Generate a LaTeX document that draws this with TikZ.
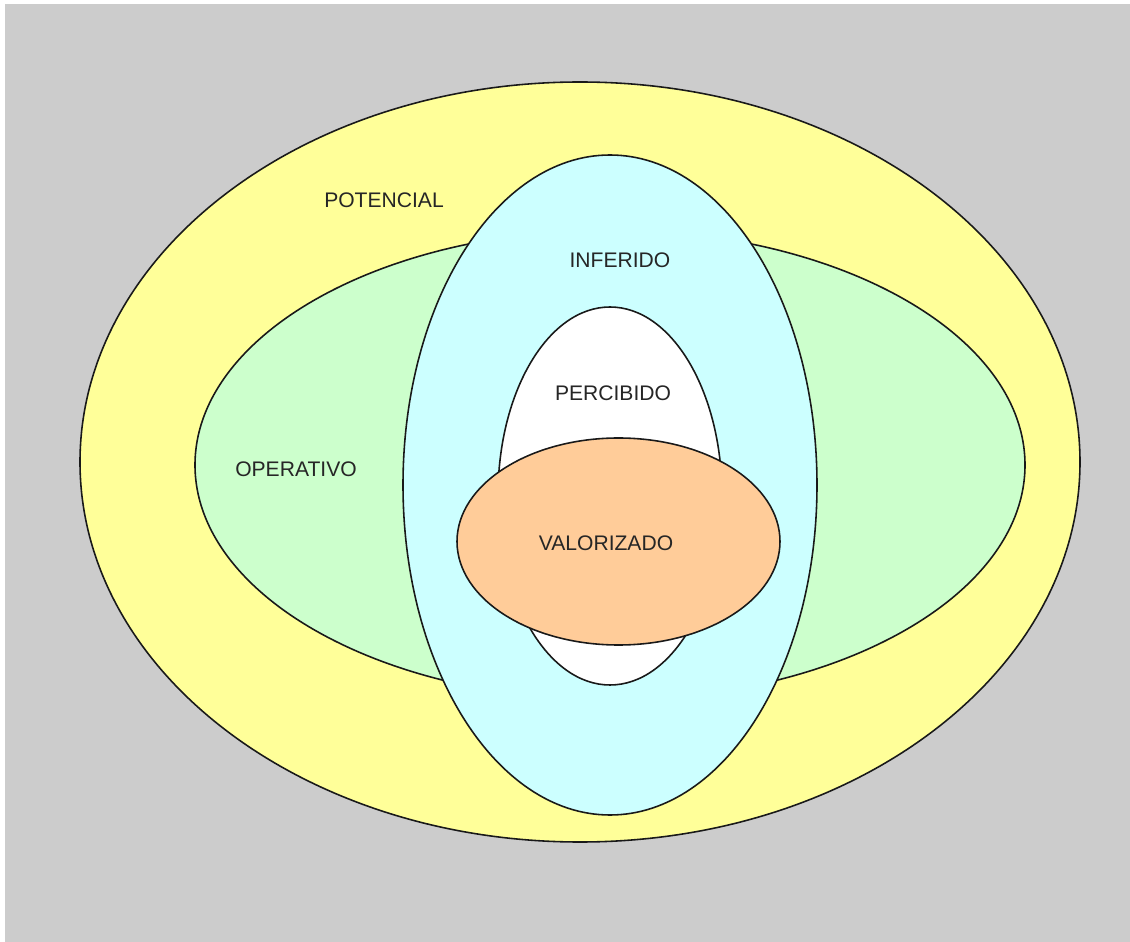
\documentclass[tikz,border=0pt]{standalone}
\usepackage{fontspec}
\setmainfont{Liberation Sans}
\usepackage{xcolor}
\definecolor{bggray}{HTML}{CCCCCC}
\definecolor{potyellow}{HTML}{FFFF99}
\definecolor{opgreen}{HTML}{CCFFCC}
\definecolor{infcyan}{HTML}{CCFFFF}
\definecolor{valorange}{HTML}{FFCC99}
\tikzset{
  zone/.style={draw=black!90, line width=0.9pt},
  zonelabel/.style={text=black!85, font=\fontsize{12}{14}\selectfont, inner sep=0pt}
}

\begin{document}
\begin{tikzpicture}[x=0.02cm,y=-0.02cm]
  % canvas
  \fill[white] (0,0) rectangle (1130,942);
  \fill[bggray] (5,4) rectangle (1130,942);
  \useasboundingbox (0,0) rectangle (1130,942);

  % nested zones
  \draw[zone, fill=potyellow] (580,462) ellipse [x radius=500, y radius=380];
  \draw[zone, fill=opgreen] (610,465) ellipse [x radius=415, y radius=235];
  \draw[zone, fill=infcyan] (610,485) ellipse [x radius=207, y radius=330];
  \draw[zone, fill=white] (610,496) ellipse [x radius=112, y radius=189];
  \draw[zone, fill=valorange] (618.5,541.5) ellipse [x radius=161.5, y radius=103.5];

  % labels
  \node[zonelabel] (potencial) at (384,200) {POTENCIAL};
  \node[zonelabel] (inferido) at (620,260) {INFERIDO};
  \node[zonelabel] (percibido) at (613,393) {PERCIBIDO};
  \node[zonelabel] (operativo) at (296,469) {OPERATIVO};
  \node[zonelabel] (valorizado) at (606,543) {VALORIZADO};
\end{tikzpicture}
\end{document}
